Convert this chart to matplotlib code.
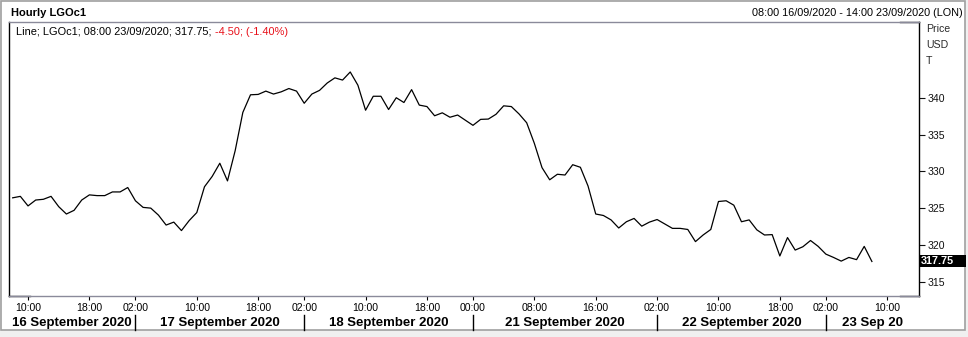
import matplotlib
matplotlib.use("Agg")
import matplotlib.pyplot as plt
from matplotlib.patches import Rectangle
from matplotlib.lines import Line2D
from matplotlib.transforms import blended_transform_factory
import numpy as np

# ---------------- data ----------------
# trading sessions (date, first hour, last hour) that make up the hourly x axis
sessions = [("2020-09-16", 8, 22), ("2020-09-17", 1, 22), ("2020-09-18", 1, 22),
            ("2020-09-20", 23, 23), ("2020-09-21", 0, 22), ("2020-09-22", 1, 22),
            ("2020-09-23", 1, 14)]

# hourly close prices, 16/09 08:00 .. 23/09 08:00
prices = [326.4, 326.6, 325.3, 326.1, 326.2, 326.6, 325.2, 324.2, 324.7, 326.1,
          326.8, 326.7, 326.7, 327.2, 327.2, 327.8, 326.0, 325.1, 325.0, 324.05,
          322.7, 323.1, 321.95, 323.3, 324.4, 327.9, 329.3, 331.1, 328.7, 332.8,
          338.0, 340.4, 340.45, 340.9, 340.5, 340.8, 341.25, 340.9, 339.25, 340.5,
          341.0, 342.0, 342.7, 342.4, 343.5, 341.7, 338.3, 340.2, 340.2, 338.4,
          340.0, 339.35, 341.1, 339.0, 338.8, 337.55, 337.95, 337.35, 337.65, 336.95,
          336.25, 337.06, 337.1, 337.75, 338.9, 338.8, 337.8, 336.6, 333.8, 330.5,
          328.85, 329.6, 329.5, 330.9, 330.55, 328.0, 324.2, 324.0, 323.4, 322.3,
          323.15, 323.6, 322.55, 323.1, 323.45, 322.85, 322.25, 322.25, 322.1, 320.45,
          321.35, 322.1, 325.9, 326.0, 325.4, 323.15, 323.4, 322.05, 321.35, 321.4,
          318.5, 321.0, 319.3, 319.75, 320.6, 319.8, 318.75, 318.3, 317.8, 318.3,
          318.0, 319.8, 317.75]

tick_times = ["2020-09-16 10:00", "2020-09-16 18:00", "2020-09-17 02:00", "2020-09-17 10:00",
              "2020-09-17 18:00", "2020-09-18 02:00", "2020-09-18 10:00", "2020-09-18 18:00",
              "2020-09-21 00:00", "2020-09-21 08:00", "2020-09-21 16:00", "2020-09-22 02:00",
              "2020-09-22 10:00", "2020-09-22 18:00", "2020-09-23 02:00", "2020-09-23 10:00"]
day_separators = ["2020-09-17 02:00", "2020-09-18 02:00", "2020-09-21 00:00",
                  "2020-09-22 02:00", "2020-09-23 02:00"]
day_labels = ["16 September 2020", "17 September 2020", "18 September 2020",
              "21 September 2020", "22 September 2020", "23 Sep 20"]
y_ticks = [315, 320, 325, 330, 335, 340]

title = "Hourly LGOc1"
range_text = "08:00 16/09/2020 - 14:00 23/09/2020 (LON)"
legend_main = "Line; LGOc1; 08:00 23/09/2020; 317.75; "
legend_change = "-4.50; (-1.40%)"
axis_labels = ["Price", "USD", "T"]
last_label = "317.75"

# ---------------- build bar times ----------------
bars = []
for d, h0, h1 in sessions:
    for h in range(h0, h1 + 1):
        bars.append(f"{d} {h:02d}:00")
idx = {t: i for i, t in enumerate(bars)}

# ---------------- figure ----------------
plt.rcParams["font.family"] = ["Liberation Sans", "DejaVu Sans"]
W, H = 968, 337
fig = plt.figure(figsize=(W / 100, H / 100), dpi=100, facecolor="#f0f0f0")


def fx(px):
    return px / W


def fy(py):
    return 1 - py / H


# white panel with grey frame
fig.patches.append(Rectangle((fx(1), fy(330)), fx(965) - fx(1), fy(0.5) - fy(330),
                             transform=fig.transFigure, facecolor="white",
                             edgecolor="#a0a0a0", lw=1.2, zorder=-10))

L, R, T, B = 9, 919, 22, 296
ax = fig.add_axes([fx(L), fy(B), fx(R) - fx(L), fy(T) - fy(B)])
ax.set_facecolor("white")

x = np.arange(len(prices))
ax.plot(x, prices, color="black", lw=0.9)

ax.set_xlim(-0.48, len(bars) - 1 + 0.14)
ax.set_ylim(313.06, 350.29)

ax.set_xticks([idx[t] for t in tick_times])
ax.set_xticklabels([t[-5:] for t in tick_times])
ax.tick_params(axis="x", direction="out", length=3, pad=2, labelsize=7.6,
               colors="black")

ax.yaxis.tick_right()
ax.set_yticks(y_ticks)
ax.set_yticklabels([str(v) for v in y_ticks])
ax.tick_params(axis="y", direction="out", length=4, pad=2, labelsize=7.6,
               colors="#111111")

for s in ("left", "right"):
    ax.spines[s].set_color("black")
    ax.spines[s].set_linewidth(1)
for s in ("top", "bottom"):
    ax.spines[s].set_color("#8a8a9a")
    ax.spines[s].set_linewidth(1)

# short black frame segments
wpx = R - L
for (x0, x1, yy) in [((900 - L) / wpx, 1, 1), ((900 - L) / wpx, 1, 0), (0, (30 - L) / wpx, 0)]:
    ax.add_line(Line2D([x0, x1], [yy, yy], transform=ax.transAxes, color="black",
                       lw=1, clip_on=False))

# day labels and separators
bt = blended_transform_factory(ax.transData, fig.transFigure)
xl, xr = ax.get_xlim()
edges = [xl] + [idx[t] for t in day_separators] + [xr]
for i, lab in enumerate(day_labels):
    fig.text((edges[i] + edges[i + 1]) / 2, fy(323), lab, transform=bt, ha="center",
             va="center", fontsize=9.5, fontweight="bold")
for t in day_separators:
    fig.add_artist(Line2D([idx[t], idx[t]], [fy(315), fy(330)], transform=bt,
                          color="black", lw=1))

# last value marker
bt2 = blended_transform_factory(fig.transFigure, ax.transData)
box_h = 12.5 / 7.36
fig.add_artist(Rectangle((fx(920), prices[-1] - box_h / 2 + 0.05), fx(966) - fx(920), box_h,
                         transform=bt2, facecolor="black", edgecolor="none",
                         clip_on=False, zorder=5))
fig.text(fx(920.5), prices[-1] + 0.05, last_label, transform=bt2, color="white",
         fontsize=7.8, fontweight="bold", va="center", ha="left", zorder=6)

# axis unit labels
for lab, py in zip(axis_labels, [29, 45, 61]):
    fig.text(fx(926), fy(py), lab, fontsize=7.6, color="#2a2a2a", va="center", ha="left")

# header
fig.text(fx(11), fy(13), title, fontsize=8, fontweight="bold", va="center", ha="left")
fig.text(fx(962.5), fy(13), range_text, fontsize=7.8, va="center", ha="right")

t1 = fig.text(fx(16.5), fy(32), legend_main, fontsize=7.9, va="center", ha="left", zorder=6)
fig.add_artist(matplotlib.text.Annotation(legend_change, xy=(1, 0.5), xycoords=t1,
                                          va="center", ha="left", fontsize=7.9,
                                          color="#e8101a", zorder=6))

fig.savefig("out.png", dpi=100, facecolor=fig.get_facecolor())
